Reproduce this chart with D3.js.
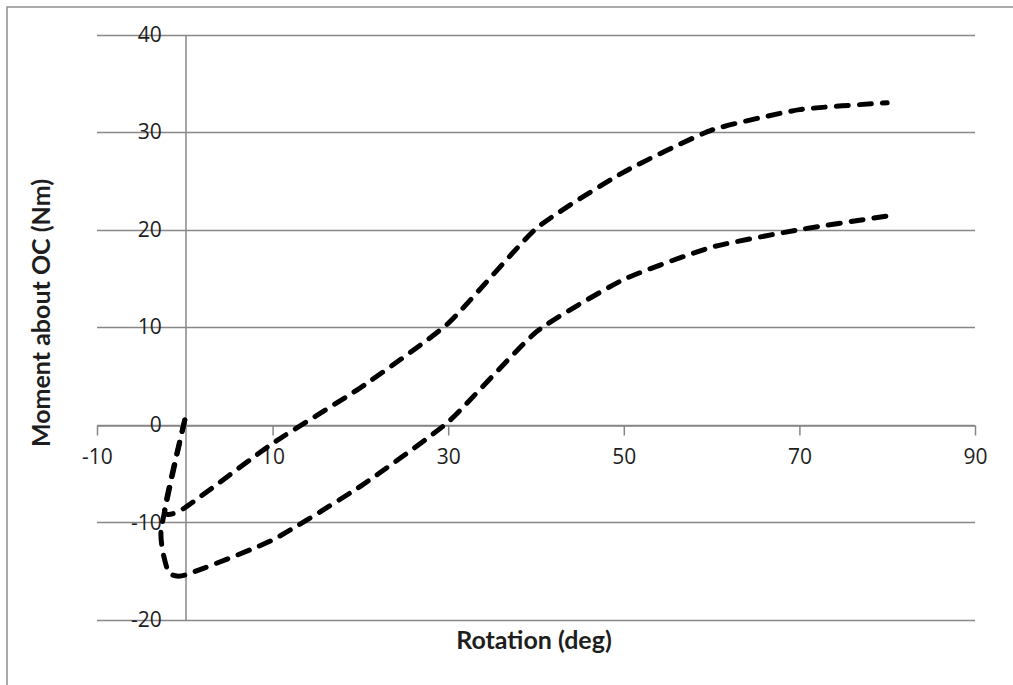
<!DOCTYPE html>
<html>
<head>
<meta charset="utf-8">
<script src="https://cdn.jsdelivr.net/npm/d3@7"></script>
<style>
  body { margin: 0; background: #fff; }
  svg { display: block; }
</style>
</head>
<body>
<svg id="chart" width="1013" height="685"></svg>
<script>
// data (rotation in deg, moment in Nm)
const upperX = [0, -2.3, 0, 10, 20, 30, 40, 50, 60, 70, 80];
const upperY = [0.5, -8.8, -8.5, -1.9, 3.8, 10.4, 20.1, 25.9, 30.2, 32.3, 33.0];
const lowerX = [0, -2.7, -1.9, 0, 10, 20, 30, 40, 50, 60, 70, 80];
const lowerY = [0.5, -10.8, -15.0, -15.4, -11.8, -6.3, 0.3, 9.5, 14.9, 18.2, 20.0, 21.4];

const xTicks = [-10, 10, 30, 50, 70, 90];
const yTicks = [-20, -10, 0, 10, 20, 30, 40];

const xTitle = "Rotation (deg)";
const yTitle = "Moment about OC (Nm)";

// layout
const plot = {left: 97, right: 975, top: 34.5, bottom: 620};
const gridColor = "#878787";
const tickFont = "'Open Sans', sans-serif";

const svg = d3.select("#chart");

// outer frame (only left and top edge visible)
svg.append("rect")
    .attr("x", 7).attr("y", 7)
    .attr("width", 1100).attr("height", 800)
    .attr("fill", "none")
    .attr("stroke", "#8e8e8e")
    .attr("stroke-width", 1.5);

let x = d3.scaleLinear().domain([-10, 90]).range([plot.left, plot.right]);
let y = d3.scaleLinear().domain([-20, 40]).range([plot.bottom, plot.top]);

// horizontal gridlines
svg.append("g")
    .selectAll("line")
    .data(yTicks)
    .join("line")
    .attr("x1", plot.left).attr("x2", plot.right)
    .attr("y1", d => Math.round(y(d)) + 0.5)
    .attr("y2", d => Math.round(y(d)) + 0.5)
    .attr("stroke", gridColor)
    .attr("stroke-width", 1.5);

// plain hyphen for negatives, like the original
const fmt = d => String(d);

// x axis sits on y = 0
let xAxis = svg.append("g")
    .attr("transform", "translate(0," + (Math.round(y(0)) + 0.5) + ")")
    .call(d3.axisBottom(x).tickValues(xTicks).tickFormat(fmt)
        .tickSize(10).tickPadding(14).tickSizeOuter(0));
xAxis.select(".domain").attr("stroke", gridColor).attr("stroke-width", 1.5);
xAxis.selectAll(".tick line").attr("stroke", gridColor).attr("stroke-width", 1.5);
xAxis.selectAll("text")
    .attr("fill", "#1e1e1e")
    .style("font-family", tickFont)
    .style("font-size", "21px");

// y axis sits on x = 0, labels at the left side of the plot
let yAxis = svg.append("g")
    .attr("transform", "translate(" + (Math.round(x(0)) + 0.5) + ",0)")
    .call(d3.axisLeft(y).tickValues(yTicks).tickFormat(fmt)
        .tickSize(0).tickPadding(0).tickSizeOuter(0));
yAxis.select(".domain").attr("stroke", gridColor).attr("stroke-width", 1.5);
yAxis.selectAll("text")
    .attr("x", 161 - x(0))
    .attr("fill", "#1e1e1e")
    .style("font-family", tickFont)
    .style("font-size", "21px");

// axis titles
svg.append("text")
    .attr("x", 534).attr("y", 649)
    .attr("text-anchor", "middle")
    .style("font-family", "Lato, 'Open Sans', sans-serif")
    .style("font-weight", "bold")
    .style("font-size", "25px")
    .attr("fill", "#1e1e1e")
    .text(xTitle);

svg.append("text")
    .attr("transform", "translate(50,313) rotate(-90)")
    .attr("text-anchor", "middle")
    .style("font-family", "Lato, 'Open Sans', sans-serif")
    .style("font-weight", "bold")
    .style("font-size", "25px")
    .attr("fill", "#1e1e1e")
    .text(yTitle);

// the two dashed curves
let line = d3.line()
    .x(d => x(d[0]))
    .y(d => y(d[1]))
    .curve(d3.curveCardinal.tension(0.5));

[[upperX, upperY], [lowerX, lowerY]].forEach(([xs, ys]) => {
    svg.append("path")
        .datum(xs.map((v, i) => [v, ys[i]]))
        .attr("fill", "none")
        .attr("stroke", "#000")
        .attr("stroke-width", 5)
        .attr("stroke-linecap", "round")
        .attr("stroke-dasharray", "12,11")
        .attr("d", line);
});
</script>
</body>
</html>
